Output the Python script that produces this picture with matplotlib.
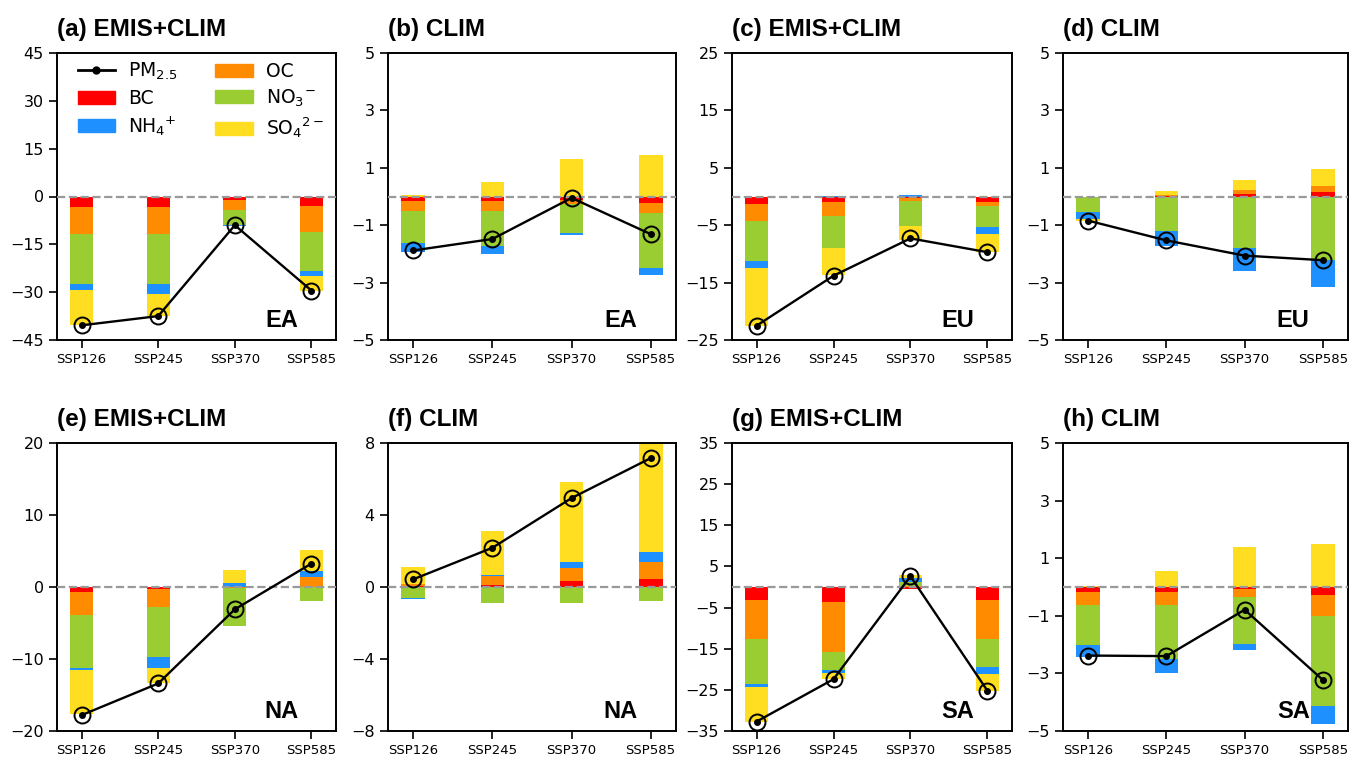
import numpy as np
import matplotlib
matplotlib.use('Agg')
import matplotlib.pyplot as plt
from matplotlib.patches import Patch
from matplotlib.lines import Line2D

scenarios = ['SSP126', 'SSP245', 'SSP370', 'SSP585']
titles = ['(a) EMIS+CLIM', '(b) CLIM', '(c) EMIS+CLIM', '(d) CLIM',
          '(e) EMIS+CLIM', '(f) CLIM', '(g) EMIS+CLIM', '(h) CLIM']
regions = ['EA', 'EA', 'EU', 'EU', 'NA', 'NA', 'SA', 'SA']
ylims = [45, 5, 25, 5, 20, 8, 35, 5]
ysteps = [15, 2, 10, 2, 10, 4, 10, 2]

# species contributions, one row per panel (a..h), columns = scenarios
bc = [[-3.3, -3.2, -1.1, -3.1],
      [-0.17, -0.17, -0.12, -0.22],
      [-1.3, -1.0, -0.2, -0.9],
      [-0.01, 0.02, 0.09, 0.17],
      [-0.65, -0.3, 0.0, 0.0],
      [0.03, 0.13, 0.32, 0.43],
      [-3.2, -3.6, -0.4, -3.2],
      [-0.17, -0.17, -0.06, -0.27]]
oc = [[-8.4, -8.7, -3.2, -8.0],
      [-0.32, -0.32, -0.14, -0.37],
      [-2.9, -2.4, -0.5, -0.7],
      [-0.01, 0.04, 0.15, 0.19],
      [-3.25, -2.5, -0.2, 1.45],
      [0.15, 0.47, 0.73, 0.95],
      [-9.5, -12.1, 0.2, -9.5],
      [-0.46, -0.45, -0.29, -0.74]]
no3 = [[-15.6, -15.6, -4.7, -12.3],
       [-1.13, -1.23, -1.02, -1.89],
       [-7.1, -5.6, -4.5, -3.7],
       [-0.52, -1.20, -1.79, -2.20],
       [-7.3, -6.9, -5.25, -1.9],
       [-0.6, -0.91, -0.9, -0.76],
       [-10.8, -4.5, 1.0, -6.8],
       [-1.40, -1.89, -1.64, -3.12]]
nh4 = [[-2.0, -3.2, -0.1, -1.4],
       [-0.32, -0.27, -0.07, -0.26],
       [-1.2, 0.1, 0.3, -1.2],
       [-0.25, -0.53, -0.80, -0.97],
       [-0.3, -1.5, 0.6, 0.8],
       [-0.08, 0.07, 0.35, 0.56],
       [-0.7, -0.7, 1.0, -1.6],
       [-0.41, -0.46, -0.21, -0.63]]
so4 = [[-10.9, -6.9, 0.0, -4.7],
       [0.06, 0.52, 1.29, 1.43],
       [-10.0, -4.7, -2.4, -3.2],
       [-0.05, 0.13, 0.32, 0.59],
       [-6.2, -2.2, 1.77, 2.9],
       [0.92, 2.45, 4.44, 5.99],
       [-8.5, -1.5, 0.7, -4.1],
       [0.03, 0.57, 1.38, 1.50]]
pm25 = [[-40.4, -37.5, -9.0, -29.5],
        [-1.88, -1.48, -0.05, -1.31],
        [-22.5, -13.8, -7.3, -9.7],
        [-0.84, -1.53, -2.06, -2.22],
        [-17.8, -13.4, -3.1, 3.26],
        [0.43, 2.18, 4.94, 7.16],
        [-32.7, -22.4, 2.6, -25.2],
        [-2.38, -2.40, -0.79, -3.23]]

species = [bc, oc, no3, nh4, so4]
colors = ['#ff0000', '#ff8c00', '#9acd32', '#1e90ff', '#ffde21']

W, H = 1349, 762
fig = plt.figure(figsize=(W / 100, H / 100), dpi=100)

# axes boxes in pixels: (left, right), (top, bottom)
xcols = [(57, 336), (388, 676), (732, 1012), (1063, 1348)]
yrows = [(53, 340), (443, 731)]

x = np.arange(len(scenarios))
for i in range(8):
    (l, r), (t, b) = xcols[i % 4], yrows[i // 4]
    ax = fig.add_axes([l / W, 1 - b / H, (r - l) / W, (b - t) / H])
    pos = np.zeros(4)
    neg = np.zeros(4)
    for sp, c in zip(species, colors):
        v = np.array(sp[i])
        base = np.where(v >= 0, pos, neg)
        ax.bar(x, v, 0.3, bottom=base, color=c, zorder=2)
        pos = pos + np.where(v >= 0, v, 0)
        neg = neg + np.where(v < 0, v, 0)
    ax.axhline(0, color='#999999', ls='--', lw=1.6, zorder=3)
    ax.plot(x, pm25[i], '-', color='k', lw=1.7, marker='o', ms=4, zorder=4)
    ax.plot(x, pm25[i], 'o', mfc='none', mec='k', ms=11.5, mew=1.4, zorder=5)
    lim = ylims[i]
    ax.set_ylim(-lim, lim)
    ax.set_yticks(np.arange(-lim, lim + 0.1, ysteps[i]))
    ax.set_xlim(-0.32, 3.32)
    ax.set_xticks(x)
    ax.set_xticklabels(scenarios)
    ax.tick_params(length=6, width=1.2)
    ax.tick_params(axis='x', labelsize=9.5)
    ax.tick_params(axis='y', labelsize=11.5)
    for s in ax.spines.values():
        s.set_linewidth(1.4)
    ax.set_title(titles[i], loc='left', fontsize=17.5, fontweight='bold',
                 family='Liberation Sans', pad=12)
    ax.text(0.865, 0.045, regions[i], transform=ax.transAxes, ha='right',
            va='baseline', fontsize=17, fontweight='bold', family='Liberation Sans')
    if i == 0:
        handles = [Line2D([], [], color='k', lw=2, marker='o', ms=5),
                   Patch(color=colors[0]), Patch(color=colors[3]),
                   Patch(color=colors[1]), Patch(color=colors[2]),
                   Patch(color=colors[4])]
        labels = ['PM$_{2.5}$', 'BC', 'NH$_4$$^{+}$', 'OC', 'NO$_3$$^{-}$',
                  'SO$_4$$^{2-}$']
        ax.legend(handles, labels, ncol=2, loc='upper left', frameon=False,
                  bbox_to_anchor=(0.02, 1.025),
                  fontsize=13.5, labelspacing=0.35, handletextpad=0.7,
                  columnspacing=2.0, borderaxespad=0.4)

plt.savefig('out.png', dpi=100)
